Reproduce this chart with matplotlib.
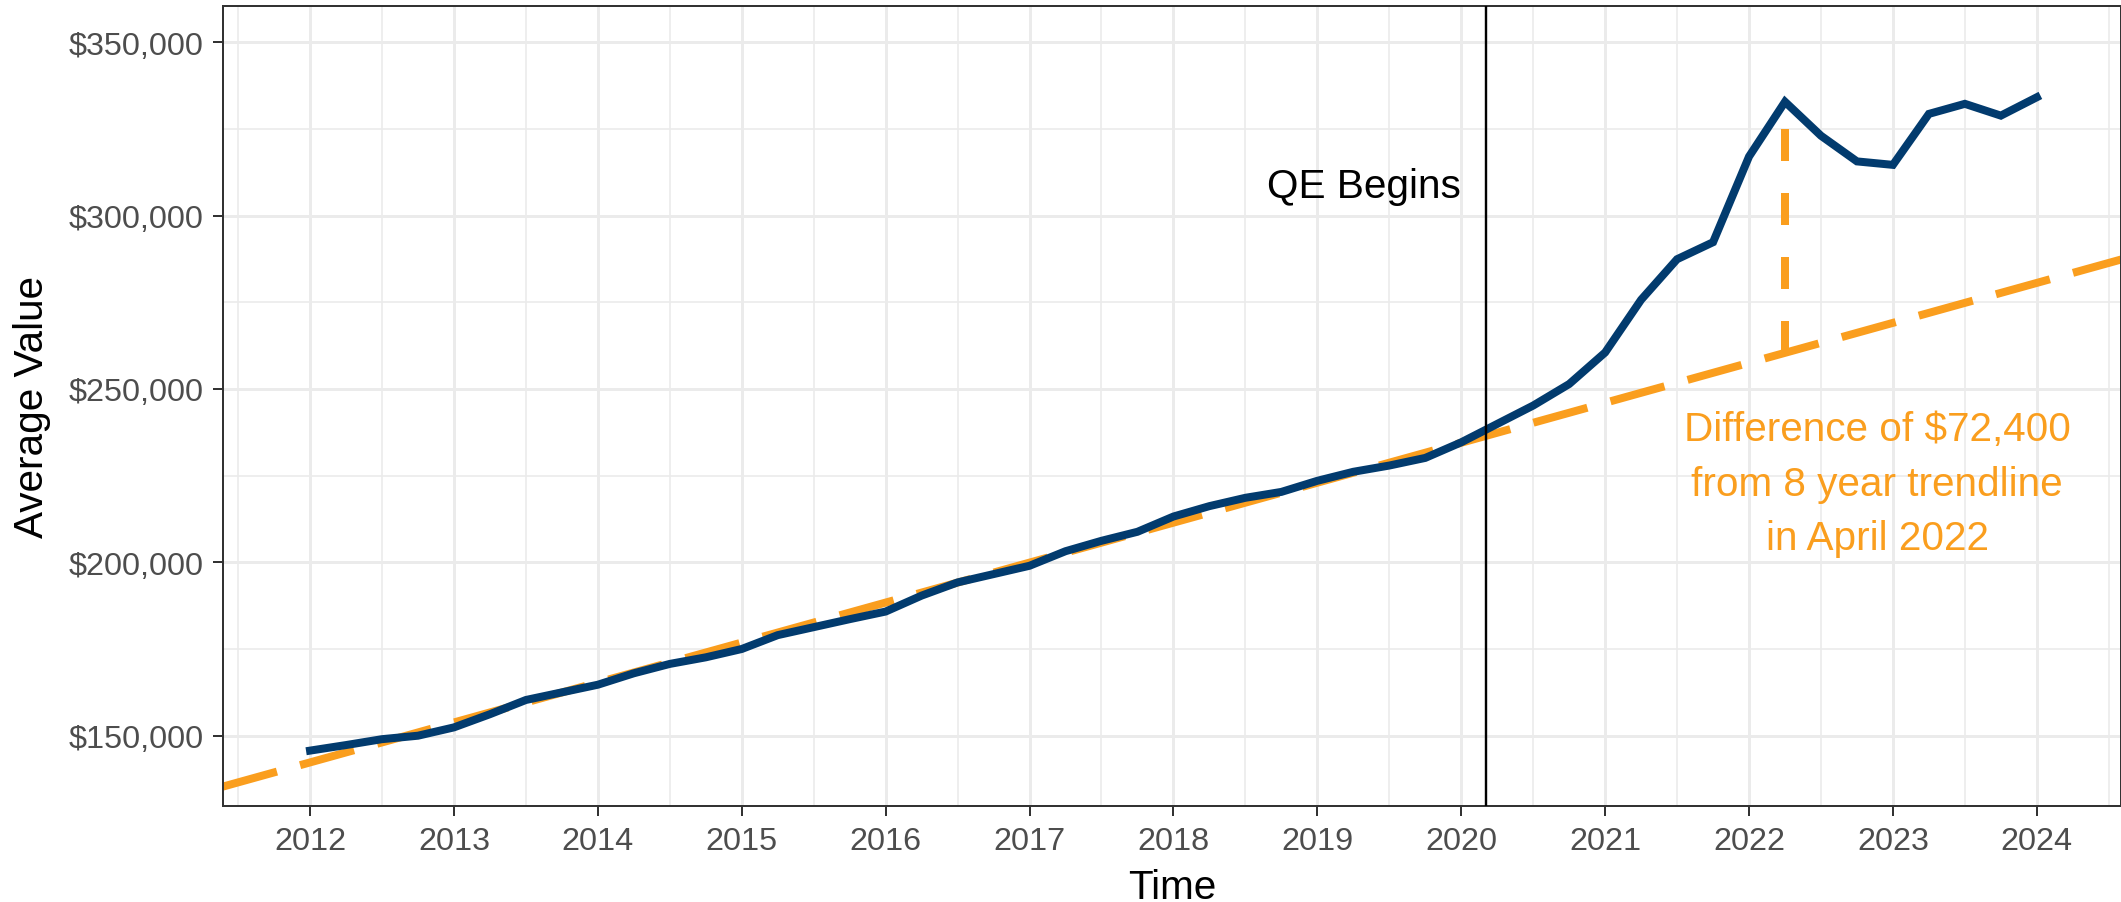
import numpy as np
import matplotlib
matplotlib.use("Agg")
import matplotlib.pyplot as plt
from matplotlib.ticker import FuncFormatter, MultipleLocator

plt.rcParams['font.family'] = ['Liberation Sans', 'DejaVu Sans']

# ---------------- data ----------------
years = np.arange(2012.0, 2024.001, 0.25)  # quarterly observations
avg_value = [
    145700, 147300, 149000, 150000,
    152400, 156200, 160300, 162500,
    164700, 168000, 170700, 172600,
    175000, 179000, 181300, 183600,
    185800, 190400, 194200, 196600,
    199000, 203200, 206200, 208800,
    213200, 216200, 218600, 220300,
    223500, 226100, 227900, 230100,
    234600, 239900, 245200, 251400,
    260500, 275700, 287400, 292300,
    317000, 332800, 323000, 315600,
    314600, 329300, 332200, 328800,
    334100,
]
# 8-year trendline (two points on the fitted line)
trend_years = [2012.0, 2022.25]
trend_values = [142300, 260400]
qe_year = 2020.17
diff_year = 2022.25
diff_actual = 332800
diff_trend = 260400
x_ticks = list(range(2012, 2025))
y_ticks = [150000, 200000, 250000, 300000, 350000]

BLUE = '#023B6E'
ORANGE = '#FA9E1E'

W, H = 2121, 903
fig = plt.figure(figsize=(W / 100, H / 100), dpi=100)
ax = fig.add_axes([223 / W, 1 - 807 / H, (W - 223) / W, 800 / H])

px = 72 / 100  # points per pixel

# grid
ax.set_xticks(x_ticks)
ax.xaxis.set_minor_locator(MultipleLocator(0.5))
ax.set_yticks(y_ticks)
ax.yaxis.set_minor_locator(MultipleLocator(25000))
ax.grid(True, which='major', color='#EBEBEB', lw=3 * px, zorder=0)
ax.grid(True, which='minor', color='#EBEBEB', lw=1.6 * px, zorder=0)
ax.set_axisbelow(True)

# trend line (long dash)
ax.axline((trend_years[0], trend_values[0]), (trend_years[1], trend_values[1]),
          color=ORANGE, lw=8 * px, dashes=(7, 3), zorder=2, dash_capstyle='butt')

# main series
ax.plot(years, avg_value, color=BLUE, lw=8 * px, zorder=3, solid_joinstyle='miter')

# difference segment
ax.plot([diff_year, diff_year], [diff_trend, diff_actual], color=ORANGE,
        lw=8 * px, dashes=(4, 4), zorder=2, dash_capstyle='butt')

# QE line
ax.axvline(qe_year, color='black', lw=2.4 * px, zorder=4)
ax.text(2020.0, 305200, 'QE Begins', ha='right', va='baseline',
        fontsize=40.5 * px, color='black', zorder=5)

ax.text(2022.89, 203800,
        'Difference of $72,400\nfrom 8 year trendline\nin April 2022',
        ha='center', va='baseline', multialignment='center',
        fontsize=40.5 * px, color=ORANGE, linespacing=1.55, zorder=5)

ax.set_xlim(2011.395, 2024.585)
ax.set_ylim(129730, 360410)

ax.yaxis.set_major_formatter(FuncFormatter(lambda v, p: f'${v:,.0f}'))

for s in ax.spines.values():
    s.set_color('#333333')
    s.set_linewidth(2 * px)

ax.tick_params(which='major', length=10 * px, width=2 * px, color='#333333',
               labelsize=32.4 * px, labelcolor='#4D4D4D', pad=7)
ax.tick_params(which='minor', length=0)

ax.set_xlabel('Time', fontsize=40.5 * px, color='black', labelpad=9)
ax.set_ylabel('Average Value', fontsize=40.5 * px, color='black', labelpad=12)

fig.savefig('out.png', dpi=100)
